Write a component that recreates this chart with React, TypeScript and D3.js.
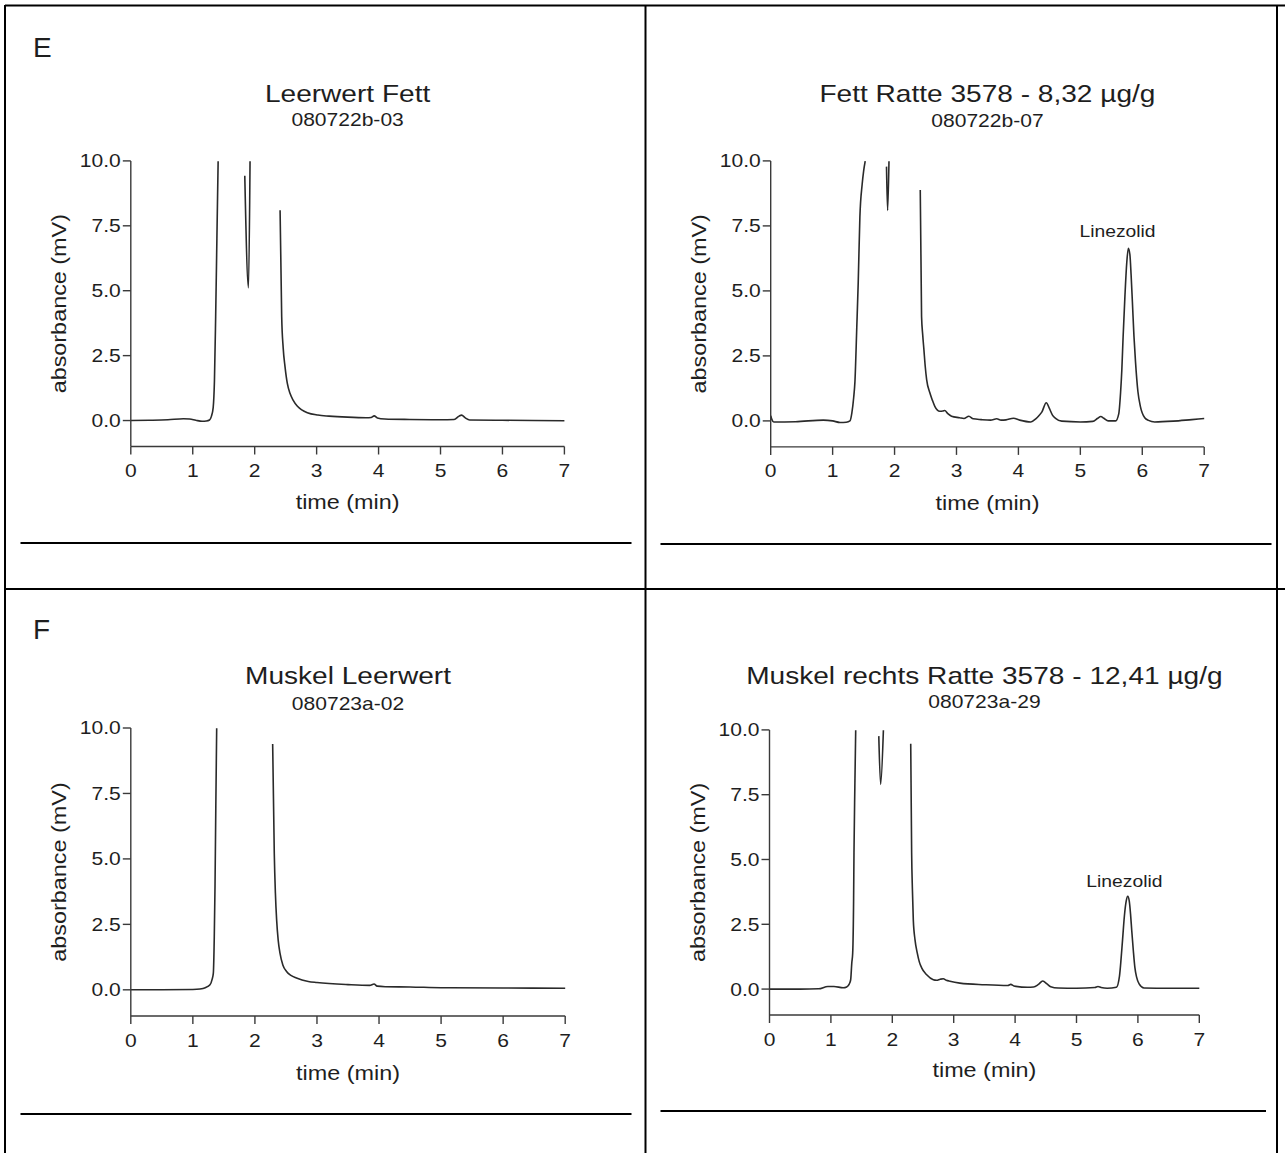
import React from "react";
import * as d3 from "d3";

// shared axis ticks
const xTicks = [0, 1, 2, 3, 4, 5, 6, 7];
const yTicks = [0, 2.5, 5, 7.5, 10];

// chromatogram traces: time (min) and absorbance (mV); values above 10 are off scale
const fettBlankTime = [0, 0.3, 0.6, 0.85, 0.95, 1.05, 1.15, 1.22, 1.27, 1.3, 1.33, 1.35, 1.37, 1.39, 1.41, 1.45, 1.8, 1.84, 1.9, 1.925, 1.95, 2.38, 2.41, 2.436, 2.46, 2.49, 2.527, 2.57, 2.62, 2.69, 2.76, 2.85, 3.02, 3.2, 3.5, 3.8, 3.88, 3.93, 3.98, 4.1, 4.5, 5.0, 5.22, 5.3, 5.34, 5.4, 5.47, 6.0, 6.5, 7.0];
const fettBlankSignal = [0, 0.01, 0.03, 0.07, 0.06, 0.01, -0.03, -0.02, 0.02, 0.15, 0.5, 1.5, 4.0, 7.0, 9.99, 14, 14, 9.43, 5.11, 9.99, 14, 14, 8.1, 4.0, 2.8, 2.07, 1.43, 1.05, 0.79, 0.55, 0.41, 0.3, 0.21, 0.17, 0.13, 0.11, 0.12, 0.18, 0.1, 0.06, 0.04, 0.03, 0.04, 0.17, 0.21, 0.1, 0.02, 0.01, 0.0, -0.01];

const fettRatTime = [0, 0.02, 0.05, 0.4, 0.85, 1.0, 1.12, 1.22, 1.28, 1.31, 1.34, 1.36, 1.39, 1.413, 1.44, 1.477, 1.5, 1.526, 1.56, 1.84, 1.87, 1.888, 1.91, 1.93, 2.39, 2.415, 2.436, 2.455, 2.474, 2.495, 2.518, 2.57, 2.61, 2.65, 2.73, 2.78, 2.81, 2.86, 2.92, 3.05, 3.12, 3.2, 3.27, 3.4, 3.55, 3.65, 3.72, 3.8, 3.92, 4.02, 4.2, 4.28, 4.33, 4.38, 4.45, 4.5, 4.55, 4.6, 4.7, 5.0, 5.2, 5.28, 5.33, 5.38, 5.45, 5.57, 5.62, 5.65, 5.67, 5.69, 5.72, 5.75, 5.775, 5.8, 5.82, 5.84, 5.866, 5.89, 5.93, 5.97, 6.04, 6.1, 6.2, 6.5, 6.8, 7.0];
const fettRatSignal = [0.2, 0.05, -0.04, -0.03, 0.03, 0.0, -0.06, -0.05, 0.0, 0.3, 0.9, 1.5, 3.6, 5.3, 7.83, 9.1, 9.6, 9.99, 14, 14, 9.78, 8.09, 9.99, 14, 14, 8.88, 4.02, 3.3, 2.74, 2.1, 1.59, 1.08, 0.8, 0.56, 0.37, 0.38, 0.4, 0.28, 0.18, 0.12, 0.09, 0.18, 0.08, 0.05, 0.03, 0.08, 0.03, 0.04, 0.1, 0.03, -0.04, 0.08, 0.2, 0.35, 0.7, 0.48, 0.22, 0.1, -0.01, -0.04, -0.02, 0.1, 0.17, 0.1, 0.0, 0.0, 0.27, 1.1, 1.97, 3.2, 4.8, 6.1, 6.64, 6.4, 5.6, 4.6, 3.25, 2.3, 1.12, 0.55, 0.12, 0.02, -0.04, -0.01, 0.05, 0.09];

const muskelBlankTime = [0, 0.5, 1.0, 1.115, 1.2, 1.276, 1.31, 1.33, 1.345, 1.357, 1.37, 1.384, 1.42, 2.26, 2.286, 2.312, 2.33, 2.35, 2.375, 2.404, 2.45, 2.51, 2.58, 2.67, 2.86, 3.0, 3.5, 3.85, 3.92, 3.97, 4.1, 4.5, 5.0, 6.0, 7.0];
const muskelBlankSignal = [0, 0, 0.01, 0.03, 0.08, 0.19, 0.4, 0.64, 2.0, 3.95, 7.0, 9.99, 14, 14, 9.39, 5.22, 3.7, 2.67, 1.9, 1.4, 0.95, 0.7, 0.55, 0.45, 0.32, 0.28, 0.2, 0.17, 0.22, 0.14, 0.12, 0.11, 0.08, 0.07, 0.06];

const muskelRatTime = [0, 0.5, 0.8, 0.95, 1.05, 1.2, 1.257, 1.3, 1.322, 1.34, 1.355, 1.37, 1.376, 1.39, 1.404, 1.43, 1.76, 1.78, 1.81, 1.855, 1.88, 2.28, 2.3, 2.315, 2.328, 2.342, 2.37, 2.407, 2.44, 2.478, 2.56, 2.668, 2.72, 2.78, 2.83, 2.88, 2.94, 3.1, 3.5, 3.88, 3.93, 3.98, 4.2, 4.3, 4.38, 4.45, 4.52, 4.58, 4.7, 5.0, 5.3, 5.35, 5.4, 5.5, 5.65, 5.7, 5.72, 5.75, 5.78, 5.81, 5.835, 5.86, 5.88, 5.9, 5.925, 5.95, 5.98, 6.02, 6.1, 6.5, 7.0];
const muskelRatSignal = [0, 0, 0.01, 0.1, 0.1, 0.05, 0.08, 0.2, 0.36, 1.0, 1.39, 3.5, 5.25, 7.8, 9.99, 14, 14, 9.76, 7.9, 9.99, 14, 14, 9.47, 5.26, 3.8, 2.67, 1.9, 1.39, 1.05, 0.82, 0.55, 0.36, 0.34, 0.38, 0.4, 0.34, 0.3, 0.23, 0.17, 0.14, 0.18, 0.12, 0.07, 0.08, 0.18, 0.31, 0.2, 0.09, 0.04, 0.03, 0.06, 0.1, 0.06, 0.03, 0.07, 0.5, 0.99, 1.9, 2.82, 3.4, 3.58, 3.38, 2.9, 2.25, 1.5, 0.85, 0.45, 0.2, 0.04, 0.03, 0.03];

const panelTitles = ["Leerwert Fett", "Fett Ratte 3578 - 8,32 µg/g", "Muskel Leerwert", "Muskel rechts Ratte 3578 - 12,41 µg/g"];
const panelRuns = ["080722b-03", "080722b-07", "080723a-02", "080723a-29"];
const peakName = "Linezolid";

const FONT = "'Liberation Sans', Arial, Helvetica, sans-serif";
const SX = 1.17; // chart glyphs are wider than Arial
const INK = "#1e1e1e";

const panels = [
  { time: fettBlankTime, signal: fettBlankSignal, x0: 130.8, x1: 564.4, yTop: 160.9, yBot: 446.5, titleY: 101.7, subY: 125.8, xLabelY: 509, peak: null },
  { time: fettRatTime, signal: fettRatSignal, x0: 770.7, x1: 1204.2, yTop: 160.9, yBot: 446.9, titleY: 101.7, subY: 126.5, xLabelY: 510, peak: [5.6, 7.07] },
  { time: muskelBlankTime, signal: muskelBlankSignal, x0: 130.8, x1: 565.2, yTop: 728, yBot: 1016, titleY: 684, subY: 709.5, xLabelY: 1080, peak: null },
  { time: muskelRatTime, signal: muskelRatSignal, x0: 769.5, x1: 1199.3, yTop: 729.9, yBot: 1015, titleY: 684, subY: 708, xLabelY: 1077, peak: [5.78, 3.95] },
];

function T({ x, y, size, anchor = "middle", rotate = 0, sx = SX, dy, children }: any) {
  return (
    <text
      transform={`translate(${x},${y}) rotate(${rotate}) scale(${sx},1)`}
      fontSize={size}
      textAnchor={anchor}
      fontFamily={FONT}
      fill={INK}
      dy={dy}
    >
      {children}
    </text>
  );
}

function Chromatogram({ p, i }: any) {
  const x = d3.scaleLinear().domain([0, 7]).range([p.x0, p.x1]);
  const y = d3.scaleLinear().domain([-1, 10]).range([p.yBot, p.yTop]);
  const pts = p.time.map((t: number, k: number) => [t, p.signal[k]]);
  const line = d3
    .line<number[]>()
    .defined((d) => d[1] <= 10)
    .x((d) => x(d[0]))
    .y((d) => y(d[1]))
    .curve(d3.curveMonotoneX);
  const cx = (p.x0 + p.x1) / 2;
  const axisY = y(-1);
  return (
    <g>
      <T x={cx} y={p.titleY} size={24}>{panelTitles[i]}</T>
      <T x={cx} y={p.subY} size={18}>{panelRuns[i]}</T>

      <path d={line(pts) || ""} fill="none" stroke="#2a2a2a" strokeWidth={1.6} strokeLinejoin="round" />

      {/* y axis */}
      <line x1={p.x0} x2={p.x0} y1={y(10)} y2={axisY} stroke="#3a3a3a" strokeWidth={1.4} />
      {yTicks.map((v) => (
        <g key={v}>
          <line x1={p.x0 - 8} x2={p.x0} y1={y(v)} y2={y(v)} stroke="#3a3a3a" strokeWidth={1.4} />
          <T x={p.x0 - 10} y={y(v)} size={18} anchor="end" dy="0.36em">{v.toFixed(1)}</T>
        </g>
      ))}
      {/* x axis */}
      <line x1={x(0)} x2={x(7)} y1={axisY} y2={axisY} stroke="#3a3a3a" strokeWidth={1.4} />
      {xTicks.map((t) => (
        <g key={t}>
          <line x1={x(t)} x2={x(t)} y1={axisY} y2={axisY + 8} stroke="#3a3a3a" strokeWidth={1.4} />
          <T x={x(t)} y={axisY + 30.5} size={18}>{t}</T>
        </g>
      ))}
      <T x={cx} y={p.xLabelY} size={20}>time (min)</T>
      <T x={p.x0 - 65} y={(y(10) + axisY) / 2} size={20} rotate={-90}>absorbance (mV)</T>
      {p.peak && (
        <T x={x(p.peak[0])} y={y(p.peak[1])} size={16.5}>{peakName}</T>
      )}
    </g>
  );
}

export default function App() {
  return (
    <svg
      width={1285}
      height={1153}
      style={{ position: "absolute", left: 0, top: 0, background: "#fff" }}
    >
      <rect width={1285} height={1153} fill="#fff" />
      {/* table frame */}
      <g stroke="#000" strokeWidth={2} fill="none">
        <line x1={5} x2={1285} y1={5.5} y2={5.5} />
        <line x1={5} x2={5} y1={5} y2={1153} />
        <line x1={1277} x2={1277} y1={5} y2={1153} />
        <line x1={645.5} x2={645.5} y1={5} y2={1153} />
        <line x1={5} x2={1285} y1={589} y2={589} />
        <line x1={20.5} x2={631.5} y1={543} y2={543} />
        <line x1={660.5} x2={1271.5} y1={544} y2={544} />
        <line x1={20.5} x2={631.5} y1={1114} y2={1114} />
        <line x1={660.5} x2={1266} y1={1111} y2={1111} />
      </g>
      <T x={33} y={57} size={28} anchor="start" sx={1}>E</T>
      <T x={33} y={638.5} size={28} anchor="start" sx={1}>F</T>
      {panels.map((p, i) => (
        <Chromatogram key={i} p={p} i={i} />
      ))}
    </svg>
  );
}
